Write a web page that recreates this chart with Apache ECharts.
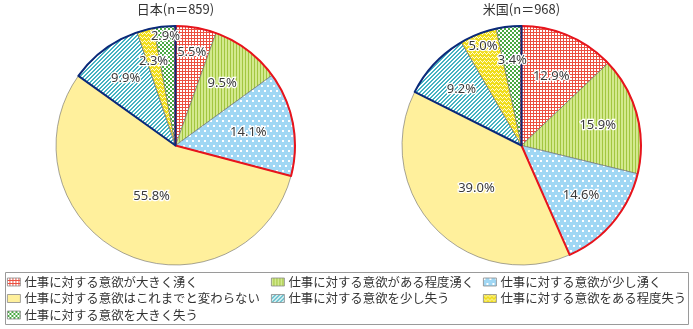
<!DOCTYPE html>
<html><head><meta charset="utf-8">
<script src="https://cdn.jsdelivr.net/npm/echarts@6/dist/echarts.min.js"></script>
<style>html,body{margin:0;padding:0;background:#fff}#c{width:693px;height:329px}</style>
</head><body><div id="c"></div>
<script>
// ---- data ----
const categories = [
  '仕事に対する意欲が大きく湧く',
  '仕事に対する意欲がある程度湧く',
  '仕事に対する意欲が少し湧く',
  '仕事に対する意欲はこれまでと変わらない',
  '仕事に対する意欲を少し失う',
  '仕事に対する意欲をある程度失う',
  '仕事に対する意欲を大きく失う'
];
const japan = [5.5, 9.5, 14.1, 55.8, 9.9, 2.3, 2.9];
const usa = [12.9, 15.9, 14.6, 39.0, 9.2, 5.0, 3.4];
const titles = ['日本(n＝859)', '米国(n＝968)'];

// ---- styles ----
const R = 119.5, CY = 145.5;
const centers = [175.5, 521.5];
const labelFrac = [
  [0.79, 0.65, 0.62, 0.47, 0.70, 0.73, 0.92],
  [0.63, 0.66, 0.65, 0.52, 0.69, 0.89, 0.72]
];

function pat(w, h, bg, draw) {
  const c = document.createElement('canvas');
  c.width = w; c.height = h;
  const g = c.getContext('2d');
  g.fillStyle = bg; g.fillRect(0, 0, w, h);
  draw(g);
  return {image: c, repeat: 'repeat'};
}
const fills = [
  pat(3, 3, '#ffffff', g => { g.fillStyle = '#ec4f40'; g.fillRect(0, 2, 3, 1); g.fillRect(2, 0, 1, 3); }),
  pat(3, 3, '#d3e98e', g => { g.fillStyle = '#a2c640'; g.fillRect(2, 0, 1, 3); }),
  pat(6, 10, '#a0d7f4', g => { g.fillStyle = '#ffffff'; g.fillRect(0, 0, 2, 2); g.fillRect(3, 5, 2, 2); }),
  '#fff09c',
  pat(4, 4, '#ffffff', g => { g.fillStyle = '#45b3c2'; for (let x = 0; x < 4; x++) { g.fillRect(x, (3 - x + 4) % 4, 1, 1); g.fillRect(x, (4 - x + 4) % 4, 1, 1); } }),
  pat(4, 4, '#f0dd1c', g => { g.fillStyle = '#fffbd8'; const z = [0, 1, 2, 1]; for (let x = 0; x < 4; x++) g.fillRect(x, z[x], 1, 1); }),
  pat(4, 4, '#ffffff', g => { g.fillStyle = '#48a842'; g.fillRect(0, 0, 2, 2); g.fillRect(2, 2, 2, 2); })
];

function layoutFor(vals, fr, cx) {
  const tot = vals.reduce((a, b) => a + b, 0);
  let acc = 0;
  const mids = vals.map(v => { const m = (acc + v / 2) / tot * 2 * Math.PI; acc += v; return m; });
  return p => ({
    x: cx + fr[p.dataIndex] * R * Math.sin(mids[p.dataIndex]),
    y: CY - fr[p.dataIndex] * R * Math.cos(mids[p.dataIndex])
  });
}
const sum = (a, i, j) => a.slice(i, j).reduce((s, v) => s + v, 0);

const sets = [japan, usa];
const series = [];
sets.forEach((vals, k) => {
  series.push({
    type: 'pie', z: 1, center: [centers[k], CY], radius: [0, R], startAngle: 90, clockwise: true,
    silent: true, label: {show: false}, labelLine: {show: false}, emphasis: {disabled: true},
    itemStyle: {borderColor: '#6a6a6a', borderWidth: 0.6},
    data: vals.map((v, i) => ({name: categories[i], value: v, itemStyle: {color: fills[i]}}))
  });
});
sets.forEach((vals, k) => {
  series.push({
    type: 'pie', z: 2, center: [centers[k], CY], radius: [0, R], startAngle: 90, clockwise: true,
    silent: true, label: {show: false}, labelLine: {show: false}, emphasis: {disabled: true},
    data: [
      {name: 'g_pos', value: sum(vals, 0, 3), itemStyle: {color: 'rgba(0,0,0,0)', borderColor: '#e8141c', borderWidth: 2}},
      {name: 'g_neu', value: sum(vals, 3, 4), itemStyle: {color: 'rgba(0,0,0,0)', borderWidth: 0}},
      {name: 'g_neg', value: sum(vals, 4, 7), itemStyle: {color: 'rgba(0,0,0,0)', borderColor: '#0b2a7a', borderWidth: 2}}
    ]
  });
});
sets.forEach((vals, k) => {
  series.push({
    type: 'pie', z: 3, center: [centers[k], CY], radius: [0, R], startAngle: 90, clockwise: true,
    silent: true, avoidLabelOverlap: false, emphasis: {disabled: true},
    itemStyle: {color: 'rgba(0,0,0,0)', borderWidth: 0},
    label: {show: true, position: 'inside', formatter: p => p.value.toFixed(1) + '%',
      fontFamily: 'Noto Sans', fontSize: 13, color: '#3a3a3a', textBorderColor: '#ffffff', textBorderWidth: 2.5},
    labelLine: {show: false},
    labelLayout: layoutFor(vals, labelFrac[k], centers[k]),
    data: vals.map((v, i) => ({name: categories[i], value: v}))
  });
});

const legendCols = [[0, 3, 6], [1, 4], [2, 5]];
const legendLeft = [7, 271, 483];
const legends = legendCols.map((idx, c) => ({
  orient: 'vertical', left: legendLeft[c], top: 275, padding: 0, itemGap: 2.5,
  itemWidth: 13, itemHeight: 8, icon: 'rect', selectedMode: false,
  itemStyle: {borderColor: '#8a8a8a', borderWidth: 0.8},
  textStyle: {fontFamily: 'Noto Sans CJK JP', fontSize: 12.4, color: '#333', lineHeight: 14, padding: [0, 0, 0, -1]},
  data: idx.map(i => categories[i])
}));

const chart = echarts.init(document.getElementById('c'), null, {renderer: 'canvas'});
chart.setOption({
  animation: false,
  legend: legends,
  graphic: [
    {type: 'rect', shape: {x: 5.5, y: 272.5, width: 683, height: 52}, style: {fill: 'none', stroke: '#9a9a9a', lineWidth: 1}, silent: true},
    {type: 'text', x: centers[0], y: 9.5, style: {text: titles[0], align: 'center', verticalAlign: 'middle', font: '13px "Noto Sans CJK JP"', fill: '#333'}},
    {type: 'text', x: centers[1], y: 9.5, style: {text: titles[1], align: 'center', verticalAlign: 'middle', font: '13px "Noto Sans CJK JP"', fill: '#333'}}
  ],
  series: series
});
</script></body></html>
